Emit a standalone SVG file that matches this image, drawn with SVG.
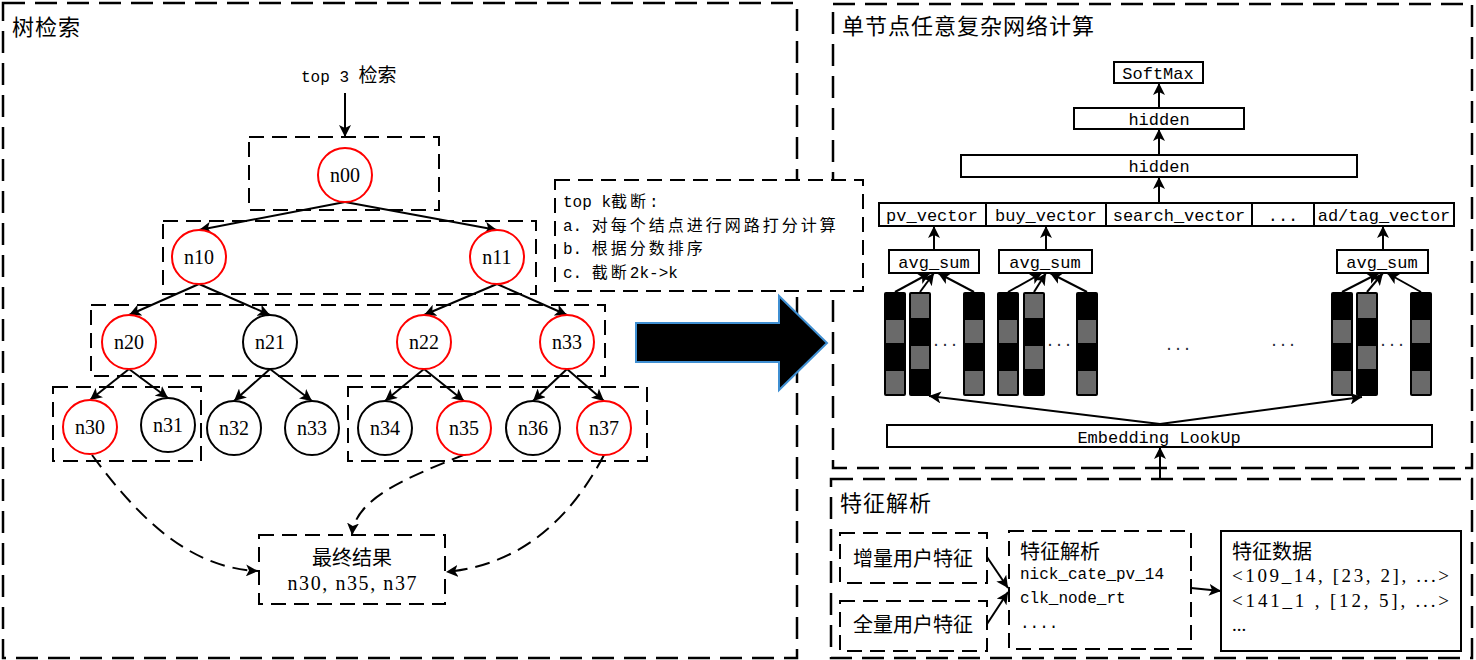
<svg xmlns="http://www.w3.org/2000/svg" width="1476" height="660" viewBox="0 0 1476 660">
  <style>
    .frame{fill:none;stroke:#000;stroke-width:2.5;stroke-dasharray:22 10}
    .dbox{fill:none;stroke:#000;stroke-width:2;stroke-dasharray:15 8}
    .dboxw{fill:#fff;stroke:#000;stroke-width:2;stroke-dasharray:15 8}
    .edge{fill:none;stroke:#000;stroke-width:2;marker-end:url(#ah)}
    .dcurve{fill:none;stroke:#000;stroke-width:2;stroke-dasharray:15 8;marker-end:url(#ah)}
    .red{fill:#fff;stroke:#f00;stroke-width:2}
    .blk{fill:#fff;stroke:#000;stroke-width:2}
    .nlabel{font-family:"Liberation Serif",serif;font-size:20px;text-anchor:middle;fill:#000}
    .box{fill:#fff;stroke:#000;stroke-width:2}
    .mono{font-family:"Liberation Mono","Noto Sans CJK SC",monospace;font-size:16px;fill:#000}
    .lbl{font-family:"Liberation Mono",monospace;font-size:17px;text-anchor:middle;fill:#000}
    .cjk{font-family:"Noto Sans CJK SC",sans-serif;font-size:19px}
    .cjkn{font-family:"Noto Sans CJK SC",sans-serif;font-size:16px;letter-spacing:3px}
    .title{font-family:"Noto Sans CJK SC",sans-serif;font-size:22px;letter-spacing:1px;fill:#000}
    .txt20{font-family:"Noto Sans CJK SC",sans-serif;font-size:20px;fill:#000}
    .serif{font-family:"Liberation Serif","Noto Sans CJK SC",serif;font-size:19px;fill:#000}
    .dots{font-family:"Liberation Mono",monospace;font-size:15px;fill:#223;text-anchor:middle}
  </style>
  <defs>
    <marker id="ah" viewBox="0 0 12 12" refX="12" refY="6" markerWidth="12" markerHeight="12" markerUnits="userSpaceOnUse" orient="auto">
      <path d="M0,0 L12,6 L0,12 L3,6 z" fill="#000"/>
    </marker>
    <!-- embedding column, dark top cell -->
    <g id="colA">
      <rect x="0" y="0" width="22" height="104" rx="2" fill="#000"/>
      <rect x="2" y="28" width="18" height="23" fill="#6a6a6a"/>
      <rect x="2" y="79" width="18" height="23" fill="#6a6a6a"/>
    </g>
    <!-- embedding column, grey top cell -->
    <g id="colB">
      <rect x="0" y="0" width="22" height="104" rx="2" fill="#000"/>
      <rect x="2" y="2" width="18" height="24" fill="#6a6a6a"/>
      <rect x="2" y="54" width="18" height="23" fill="#6a6a6a"/>
    </g>
  </defs>

  <rect width="1476" height="660" fill="#fff"/>

  <!-- panel frames -->
  <g id="frames">
    <rect class="frame" x="3" y="3" width="794" height="655"/>
    <rect class="frame" x="833" y="4" width="639" height="464"/>
    <rect class="frame" x="831" y="479" width="641" height="179"/>
    <text class="title" x="12" y="35">树检索</text>
    <text class="title" x="842" y="34">单节点任意复杂网络计算</text>
    <text class="title" x="840" y="511">特征解析</text>
  </g>

  <!-- level boxes of the tree -->
  <g id="levels">
    <rect class="dbox" x="249" y="137" width="190" height="73"/>
    <rect class="dbox" x="163" y="221" width="373" height="73"/>
    <rect class="dbox" x="91" y="305" width="514" height="71"/>
    <rect class="dbox" x="53" y="387" width="148" height="74"/>
    <rect class="dbox" x="348" y="387" width="299" height="74"/>
  </g>

  <text class="mono" x="301" y="82">top 3 <tspan class="cjk">检索</tspan></text>

  <!-- connectors -->
  <g id="connectors">
    <line class="edge" x1="345" y1="93" x2="345" y2="137"/>
    <line class="edge" x1="345" y1="202" x2="199" y2="230"/>
    <line class="edge" x1="345" y1="202" x2="497" y2="230"/>
    <line class="edge" x1="199" y1="284" x2="129" y2="315"/>
    <line class="edge" x1="199" y1="284" x2="270" y2="315"/>
    <line class="edge" x1="497" y1="284" x2="424" y2="315"/>
    <line class="edge" x1="497" y1="284" x2="567" y2="315"/>
    <line class="edge" x1="129" y1="369" x2="90" y2="400"/>
    <line class="edge" x1="129" y1="369" x2="168" y2="398"/>
    <line class="edge" x1="270" y1="369" x2="234" y2="401"/>
    <line class="edge" x1="270" y1="369" x2="312" y2="401"/>
    <line class="edge" x1="424" y1="369" x2="385" y2="401"/>
    <line class="edge" x1="424" y1="369" x2="464" y2="401"/>
    <line class="edge" x1="567" y1="369" x2="533" y2="401"/>
    <line class="edge" x1="567" y1="369" x2="604" y2="401"/>
    <path class="dcurve" d="M92,455 C140,520 190,568 258,571"/>
    <path class="dcurve" d="M466,454 C400,480 355,500 352,535"/>
    <path class="dcurve" d="M604,455 C570,520 520,565 446,572"/>

    <!-- network -->
    <line class="edge" x1="1159" y1="108" x2="1159" y2="83"/>
    <line class="edge" x1="1159" y1="155" x2="1159" y2="129"/>
    <line class="edge" x1="1159" y1="203" x2="1159" y2="177"/>
    <line class="edge" x1="934" y1="250" x2="934" y2="226"/>
    <line class="edge" x1="1046" y1="250" x2="1046" y2="226"/>
    <line class="edge" x1="1383" y1="250" x2="1383" y2="226"/>
    <line class="edge" x1="895" y1="292" x2="930" y2="273"/>
    <line class="edge" x1="920" y1="292" x2="934" y2="273"/>
    <line class="edge" x1="974" y1="292" x2="938" y2="273"/>
    <line class="edge" x1="1008" y1="292" x2="1042" y2="273"/>
    <line class="edge" x1="1034" y1="292" x2="1046" y2="273"/>
    <line class="edge" x1="1087" y1="292" x2="1050" y2="273"/>
    <line class="edge" x1="1342" y1="292" x2="1379" y2="273"/>
    <line class="edge" x1="1367" y1="292" x2="1383" y2="273"/>
    <line class="edge" x1="1421" y1="292" x2="1387" y2="273"/>
    <line class="edge" x1="1160" y1="424" x2="929" y2="396"/>
    <line class="edge" x1="1160" y1="424" x2="1362" y2="397"/>
    <line class="edge" x1="1160" y1="480" x2="1160" y2="447"/>

    <!-- feature parsing -->
    <line class="edge" x1="987" y1="557" x2="1008" y2="588"/>
    <line class="edge" x1="987" y1="624" x2="1008" y2="592"/>
    <line class="edge" x1="1191" y1="588" x2="1221" y2="591"/>
  </g>

  <!-- tree nodes -->
  <g id="node-n00"><circle class="red" cx="345" cy="175" r="27"/><text class="nlabel" x="345" y="182">n00</text></g>
  <g id="node-n10"><circle class="red" cx="199" cy="257" r="27"/><text class="nlabel" x="199" y="264">n10</text></g>
  <g id="node-n11"><circle class="red" cx="497" cy="257" r="27"/><text class="nlabel" x="497" y="264">n11</text></g>
  <g id="node-n20"><circle class="red" cx="129" cy="342" r="27"/><text class="nlabel" x="129" y="349">n20</text></g>
  <g id="node-n21"><circle class="blk" cx="270" cy="342" r="27"/><text class="nlabel" x="270" y="349">n21</text></g>
  <g id="node-n22"><circle class="red" cx="424" cy="342" r="27"/><text class="nlabel" x="424" y="349">n22</text></g>
  <g id="node-n33-upper"><circle class="red" cx="567" cy="342" r="27"/><text class="nlabel" x="567" y="349">n33</text></g>
  <g id="node-n30"><circle class="red" cx="90" cy="427" r="27"/><text class="nlabel" x="90" y="434">n30</text></g>
  <g id="node-n31"><circle class="blk" cx="168" cy="425" r="27"/><text class="nlabel" x="168" y="432">n31</text></g>
  <g id="node-n32"><circle class="blk" cx="234" cy="428" r="27"/><text class="nlabel" x="234" y="435">n32</text></g>
  <g id="node-n33"><circle class="blk" cx="312" cy="428" r="27"/><text class="nlabel" x="312" y="435">n33</text></g>
  <g id="node-n34"><circle class="blk" cx="385" cy="428" r="27"/><text class="nlabel" x="385" y="435">n34</text></g>
  <g id="node-n35"><circle class="red" cx="464" cy="428" r="27"/><text class="nlabel" x="464" y="435">n35</text></g>
  <g id="node-n36"><circle class="blk" cx="533" cy="428" r="27"/><text class="nlabel" x="533" y="435">n36</text></g>
  <g id="node-n37"><circle class="red" cx="604" cy="428" r="27"/><text class="nlabel" x="604" y="435">n37</text></g>

  <g id="node-result">
    <rect class="dboxw" x="259" y="535" width="186" height="69"/>
    <text class="txt20" x="352" y="565" text-anchor="middle">最终结果</text>
    <text class="nlabel" x="352" y="590" textLength="129" lengthAdjust="spacing">n30, n35, n37</text>
  </g>

  <!-- top-k note -->
  <g id="node-topk">
    <rect class="dboxw" x="555" y="180" width="308" height="111"/>
    <text class="mono" x="563" y="207">top k<tspan class="cjkn">截断</tspan>:</text>
    <text class="mono" x="563" y="231">a. <tspan class="cjkn">对每个结点进行网路打分计算</tspan></text>
    <text class="mono" x="563" y="254">b. <tspan class="cjkn">根据分数排序</tspan></text>
    <text class="mono" x="563" y="278">c. <tspan class="cjkn">截断</tspan>2k-&gt;k</text>
  </g>

  <g id="big-arrow">
    <polygon points="636,323 779,323 779,296 827,343 779,390 779,362 636,362" fill="#000" stroke="#3f8fd2" stroke-width="2"/>
  </g>

  <!-- network layers -->
  <g id="node-softmax"><rect class="box" x="1114" y="62" width="89" height="21"/><text class="lbl" x="1158" y="79">SoftMax</text></g>
  <g id="node-hidden1"><rect class="box" x="1074" y="108" width="170" height="21"/><text class="lbl" x="1159" y="125">hidden</text></g>
  <g id="node-hidden2"><rect class="box" x="961" y="155" width="396" height="22"/><text class="lbl" x="1159" y="172">hidden</text></g>
  <g id="node-vectors">
    <rect class="box" x="879" y="203" width="575" height="23"/>
    <line x1="986" y1="203" x2="986" y2="226" stroke="#000" stroke-width="2"/>
    <line x1="1106" y1="203" x2="1106" y2="226" stroke="#000" stroke-width="2"/>
    <line x1="1252" y1="203" x2="1252" y2="226" stroke="#000" stroke-width="2"/>
    <line x1="1314" y1="203" x2="1314" y2="226" stroke="#000" stroke-width="2"/>
    <text class="lbl" x="932" y="221">pv_vector</text>
    <text class="lbl" x="1046" y="221">buy_vector</text>
    <text class="lbl" x="1179" y="221">search_vector</text>
    <text class="lbl" x="1283" y="221">...</text>
    <text class="lbl" x="1384" y="221">ad/tag_vector</text>
  </g>
  <g id="node-avg1"><rect class="box" x="889" y="250" width="90" height="23"/><text class="lbl" x="934" y="268">avg_sum</text></g>
  <g id="node-avg2"><rect class="box" x="999" y="250" width="93" height="23"/><text class="lbl" x="1045" y="268">avg_sum</text></g>
  <g id="node-avg3"><rect class="box" x="1337" y="250" width="91" height="23"/><text class="lbl" x="1382" y="268">avg_sum</text></g>

  <g id="node-emb-group1">
    <use href="#colA" x="884" y="292"/>
    <use href="#colB" x="909" y="292"/>
    <use href="#colA" x="963" y="292"/>
    <text class="dots" x="945" y="346">...</text>
  </g>
  <g id="node-emb-group2">
    <use href="#colA" x="997" y="292"/>
    <use href="#colB" x="1023" y="292"/>
    <use href="#colA" x="1076" y="292"/>
    <text class="dots" x="1059" y="346">...</text>
  </g>
  <text class="dots" x="1178" y="350">...</text>
  <text class="dots" x="1283" y="346">...</text>
  <g id="node-emb-group3">
    <use href="#colA" x="1331" y="292"/>
    <use href="#colB" x="1356" y="292"/>
    <use href="#colA" x="1410" y="292"/>
    <text class="dots" x="1392" y="346">...</text>
  </g>
  <g id="node-embedding"><rect class="box" x="887" y="425" width="545" height="22"/><text class="lbl" x="1159" y="443">Embedding LookUp</text></g>

  <!-- feature parsing -->
  <g id="node-incr"><rect class="dboxw" x="840" y="533" width="147" height="50"/><text class="txt20" x="853" y="566">增量用户特征</text></g>
  <g id="node-full"><rect class="dboxw" x="840" y="601" width="147" height="50"/><text class="txt20" x="853" y="632">全量用户特征</text></g>
  <g id="node-parse">
    <rect class="dboxw" x="1009" y="531" width="182" height="118"/>
    <text class="txt20" x="1020" y="559">特征解析</text>
    <text class="mono" x="1020" y="579">nick_cate_pv_14</text>
    <text class="mono" x="1020" y="603">clk_node_rt</text>
    <text class="mono" x="1020" y="628" font-size="14">....</text>
  </g>
  <g id="node-data">
    <rect class="box" x="1221" y="531" width="240" height="120"/>
    <text class="txt20" x="1232" y="559">特征数据</text>
    <text class="serif" x="1232" y="582" textLength="217" lengthAdjust="spacing">&lt;109_14, [23, 2], ...&gt;</text>
    <text class="serif" x="1232" y="607" textLength="217" lengthAdjust="spacing">&lt;141_1 , [12, 5], ...&gt;</text>
    <text class="serif" x="1232" y="631">...</text>
  </g>
</svg>
